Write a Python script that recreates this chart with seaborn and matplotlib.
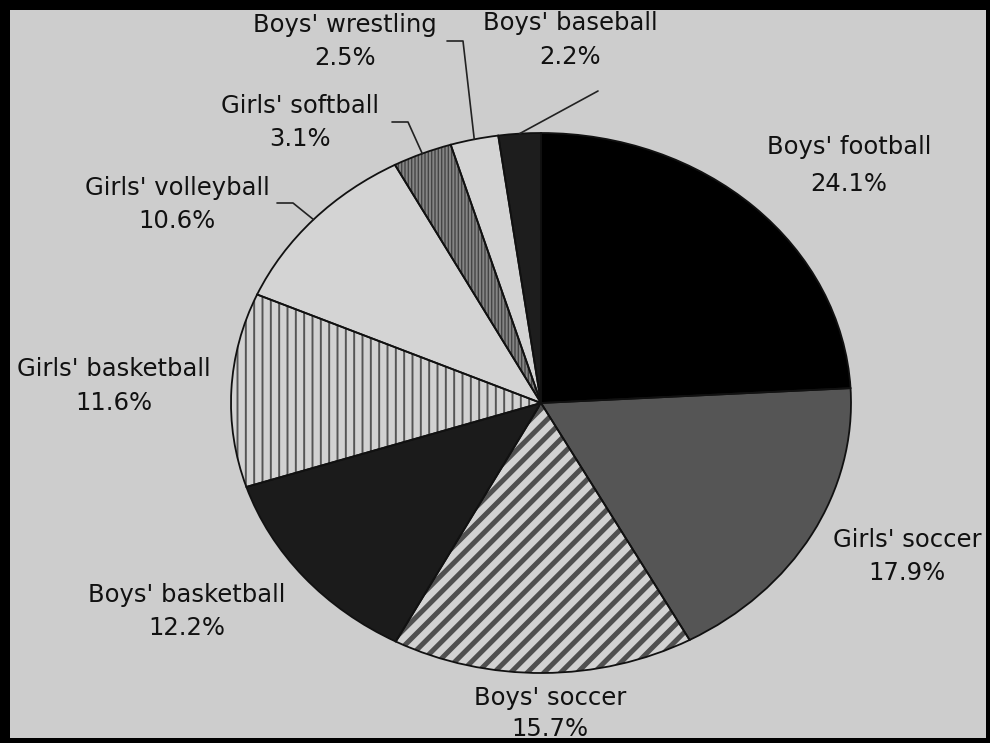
import numpy as np
import matplotlib
matplotlib.use("Agg")
import matplotlib.pyplot as plt
from matplotlib.patches import Rectangle
import seaborn as sns

# Share of high-school sports injuries by sport
sports = ["Boys' football", "Girls' soccer", "Boys' soccer", "Boys' basketball",
          "Girls' basketball", "Girls' volleyball", "Girls' softball",
          "Boys' wrestling", "Boys' baseball"]
shares = [24.1, 17.9, 15.7, 12.2, 11.6, 10.6, 3.1, 2.5, 2.2]

# Slice styling (fill, hatch pattern, hatch colour, hatch width)
fills = ["#000000", "#555555", "#d2d2d2", "#1b1b1b", "#d2d2d2",
         "#d4d4d4", "#858585", "#d4d4d4", "#1d1d1d"]
hatches = ["", "", "//", "", "||", "", "|||||", "", ""]
hatch_colors = ["none", "none", "#505050", "none", "#555555",
                "none", "#454545", "none", "none"]
hatch_widths = [1, 1, 3.6, 1, 1.4, 1, 1.0, 1, 1]

BG = "#cdcdcd"
W, H = 990, 743
CX, CY, RX, RY = 541, 403, 310, 270   # pie centre and radii in pixels


def to_data(x, y):
    return (x - CX) / RX, (CY - y) / RY


sns.set_theme(style="white")
plt.rcParams["font.family"] = ["DejaVu Sans"]
plt.rcParams["hatch.linewidth"] = 1.4

fig = plt.figure(figsize=(W / 100, H / 100), dpi=100, facecolor=BG)
ax = fig.add_axes([(CX - RX) / W, (H - CY - RY) / H, 2 * RX / W, 2 * RY / H])
ax.set_facecolor(BG)

common = dict(startangle=90, counterclock=False, radius=1.0)

# solid fills
ax.pie(shares, colors=fills, wedgeprops=dict(linewidth=0), **common)

# hatch overlays
hw, _ = ax.pie(shares, colors=["none"] * len(shares), wedgeprops=dict(linewidth=0), **common)
for w, h, hc, lw in zip(hw, hatches, hatch_colors, hatch_widths):
    if h:
        w.set_hatch(h)
        w.set_edgecolor(hc)
        w.set_linewidth(0)
        if hasattr(w, "set_hatch_linewidth"):
            w.set_hatch_linewidth(lw)
    else:
        w.set_visible(False)

# outlines
ow, _ = ax.pie(shares, colors=["none"] * len(shares),
               wedgeprops=dict(linewidth=1.3, edgecolor="#111111"), **common)

ax.set_aspect("auto")
ax.set_xlim(-1, 1)
ax.set_ylim(-1, 1)
ax.axis("off")

# label positions (pixels): name centre x, name baseline, percent baseline
label_pos = [(849, 154, 191), (907, 547, 580), (550, 705, 736),
             (187, 602, 635), (114, 376, 410), (177, 195, 228),
             (300, 113, 146), (345, 32, 65), (570, 30, 64)]

for name, v, (lx, ny, py) in zip(sports, shares, label_pos):
    x, y = to_data(lx, ny)
    ax.text(x, y, name, ha="center", va="baseline", fontsize=17.5,
            color="#111111", clip_on=False)
    x, y = to_data(lx, py)
    ax.text(x, y, f"{v:.1f}%", ha="center", va="baseline", fontsize=17.5,
            color="#111111", clip_on=False)

# leader lines from small slices to their labels
leaders = {6: [(408, 122), (392, 122)],
           7: [(463, 41), (447, 41)],
           8: [(598, 91)],
           5: [(293, 203), (277, 203)]}
for idx, pts in leaders.items():
    w = ow[idx]
    mid = np.deg2rad((w.theta1 + w.theta2) / 2)
    xs = [np.cos(mid)] + [to_data(*p)[0] for p in pts]
    ys = [np.sin(mid)] + [to_data(*p)[1] for p in pts]
    ax.plot(xs, ys, color="#222222", lw=1.2, clip_on=False)

# black frame around the chart
for (x0, y0, ww, hh) in [(0, 0, W, 10), (0, 0, 10, H), (W - 4, 0, 4, H), (0, H - 5, W, 5)]:
    fig.add_artist(Rectangle((x0 / W, 1 - (y0 + hh) / H), ww / W, hh / H,
                             transform=fig.transFigure, facecolor="black",
                             edgecolor="none", zorder=10))

fig.savefig("out.png", dpi=100, facecolor=BG)
